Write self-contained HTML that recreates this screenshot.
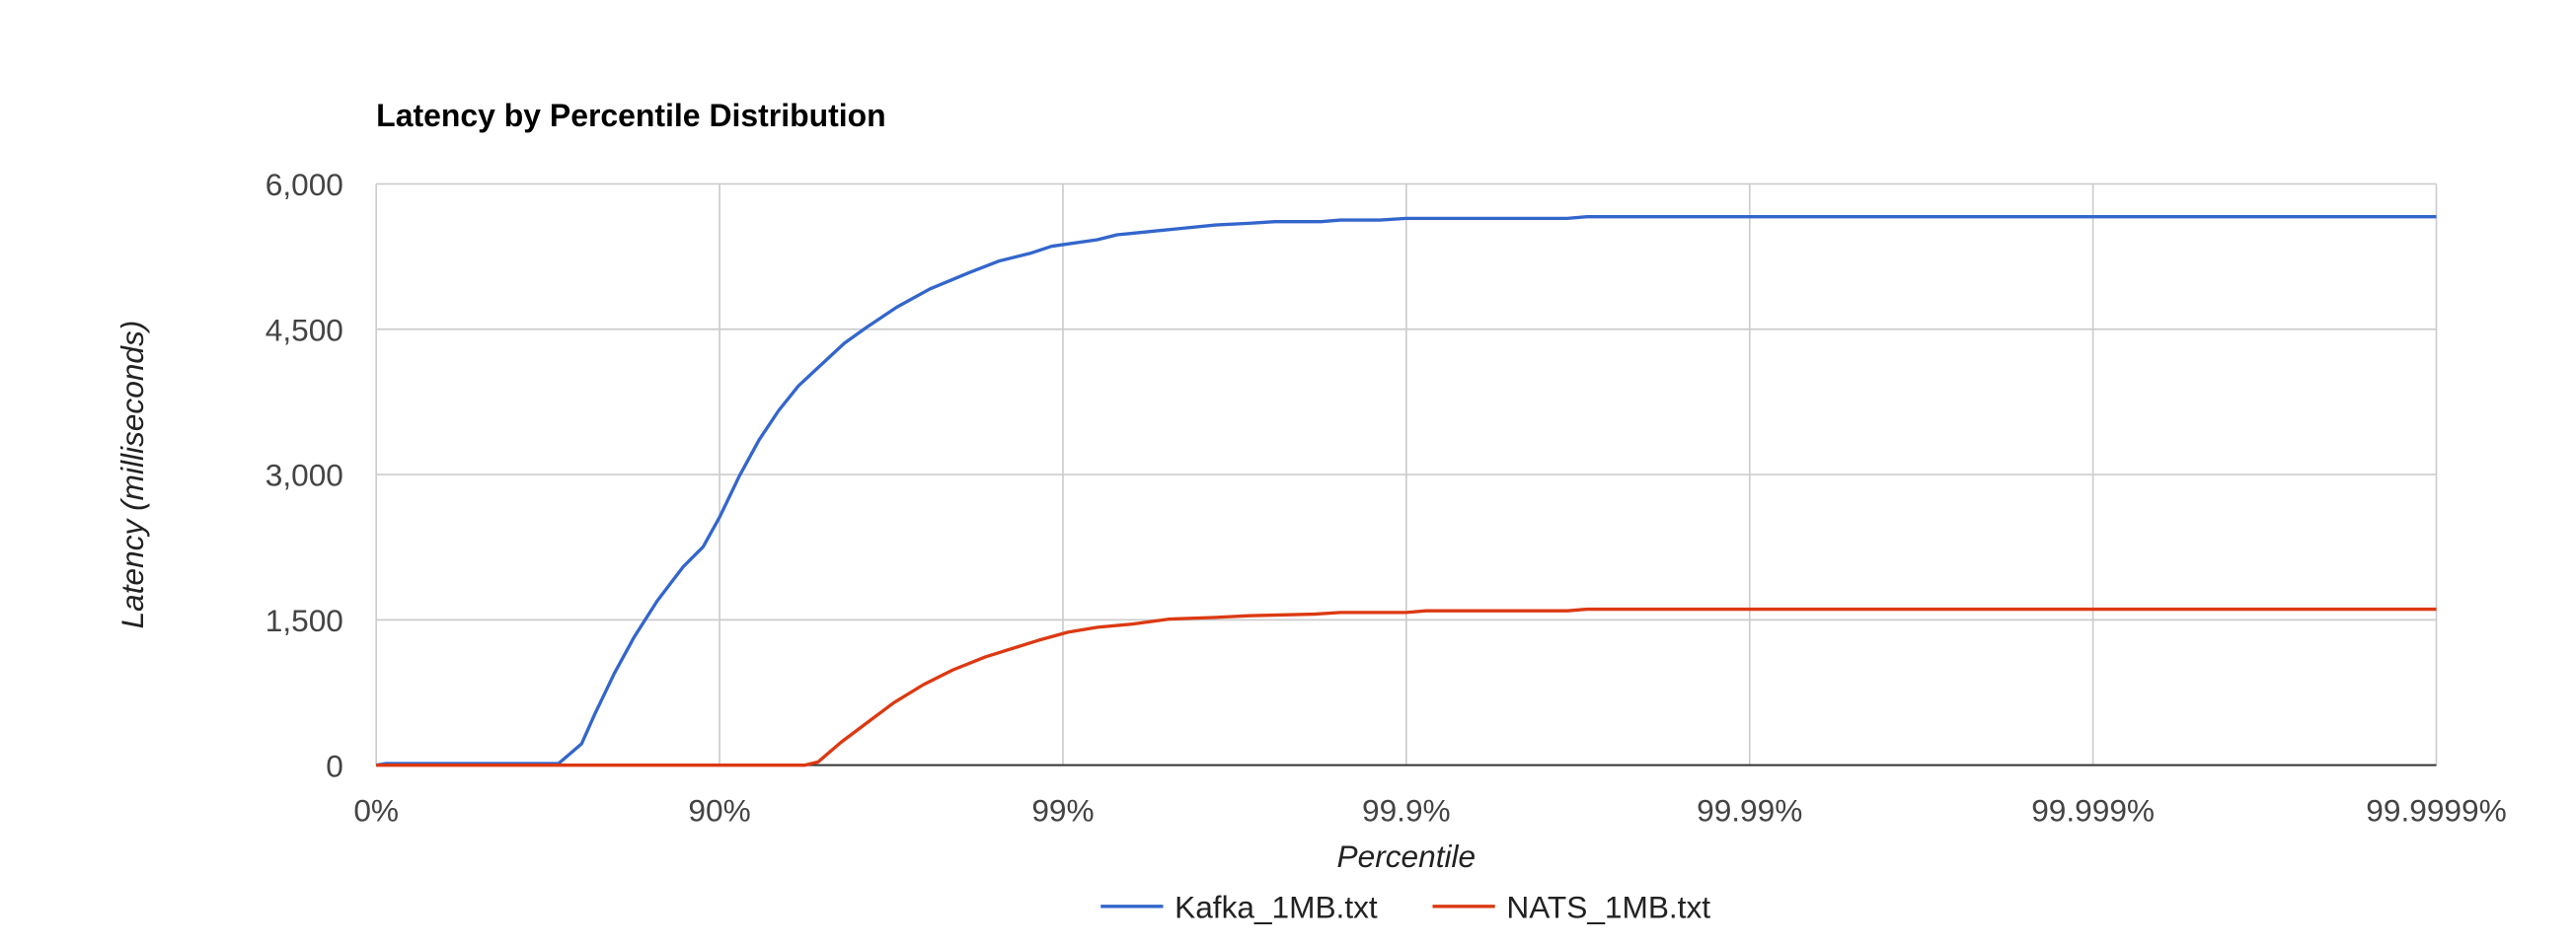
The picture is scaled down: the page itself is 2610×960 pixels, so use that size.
<!DOCTYPE html>
<html><head><meta charset="utf-8"><style>html,body{margin:0;padding:0;background:#fff}svg{display:block}</style></head>
<body>
<svg width="2610" height="960" viewBox="0 0 1568 576.74" xmlns="http://www.w3.org/2000/svg" font-family="Liberation Sans, Arial, sans-serif">
<rect width="1568" height="576.74" fill="#fff"/>
<text x="229" y="77" font-size="19.2" font-weight="bold" fill="#000">Latency by Percentile Distribution</text>
<g stroke="#cccccc" stroke-width="1">
<line x1="229" y1="112" x2="1483" y2="112"/>
<line x1="229" y1="200.5" x2="1483" y2="200.5"/>
<line x1="229" y1="289" x2="1483" y2="289"/>
<line x1="229" y1="377.5" x2="1483" y2="377.5"/>
<line x1="229" y1="112" x2="229" y2="466"/>
<line x1="438" y1="112" x2="438" y2="466"/>
<line x1="647" y1="112" x2="647" y2="466"/>
<line x1="856" y1="112" x2="856" y2="466"/>
<line x1="1065" y1="112" x2="1065" y2="466"/>
<line x1="1274" y1="112" x2="1274" y2="466"/>
<line x1="1483" y1="112" x2="1483" y2="466"/>
</g>
<line x1="229" y1="466" x2="1483" y2="466" stroke="#333" stroke-width="1.2"/>
<g font-size="19" fill="#444" text-anchor="end">
<text x="209" y="119">6,000</text>
<text x="209" y="207.5">4,500</text>
<text x="209" y="296">3,000</text>
<text x="209" y="384.5">1,500</text>
<text x="209" y="473">0</text>
</g>
<g font-size="19" fill="#444" text-anchor="middle">
<text x="229" y="500">0%</text>
<text x="438" y="500">90%</text>
<text x="647" y="500">99%</text>
<text x="856" y="500">99.9%</text>
<text x="1065" y="500">99.99%</text>
<text x="1274" y="500">99.999%</text>
<text x="1483" y="500">99.9999%</text>
</g>
<text x="856" y="528" font-size="19" font-style="italic" fill="#222" text-anchor="middle">Percentile</text>
<text transform="translate(87,289) rotate(-90)" font-size="19" font-style="italic" fill="#222" text-anchor="middle">Latency (milliseconds)</text>
<polyline fill="none" stroke="#3366cc" stroke-width="2" stroke-linejoin="round" points="229,466 235,465 340,465 354,453 362,435 374,410 386,388 400,366 416,345 428,333 438,315 450,290 462,268 474,250 486,235 500,222 514,209 528,199 546,187 566,176 590,166 608,159 628,154 640,150 668,146 680,143 700,141 720,139 740,137 760,136 776,135 804,135 816,134 840,134 856,133 954,133 966,132 1483,132"/>
<polyline fill="none" stroke="#dc3912" stroke-width="2" stroke-linejoin="round" points="229,466 490,466 498,464 512,452 528,440 544,428 562,417 580,408 600,400 616,395 632,390 650,385 668,382 690,380 712,377 740,376 760,375 800,374 816,373 856,373 868,372 954,372 966,371 1483,371"/>
<line x1="670" y1="552" x2="708" y2="552" stroke="#3366cc" stroke-width="2"/>
<text x="715" y="559" font-size="19" fill="#222">Kafka_1MB.txt</text>
<line x1="872" y1="552" x2="910" y2="552" stroke="#dc3912" stroke-width="2"/>
<text x="917" y="559" font-size="19" fill="#222">NATS_1MB.txt</text>
</svg>
</body></html>
